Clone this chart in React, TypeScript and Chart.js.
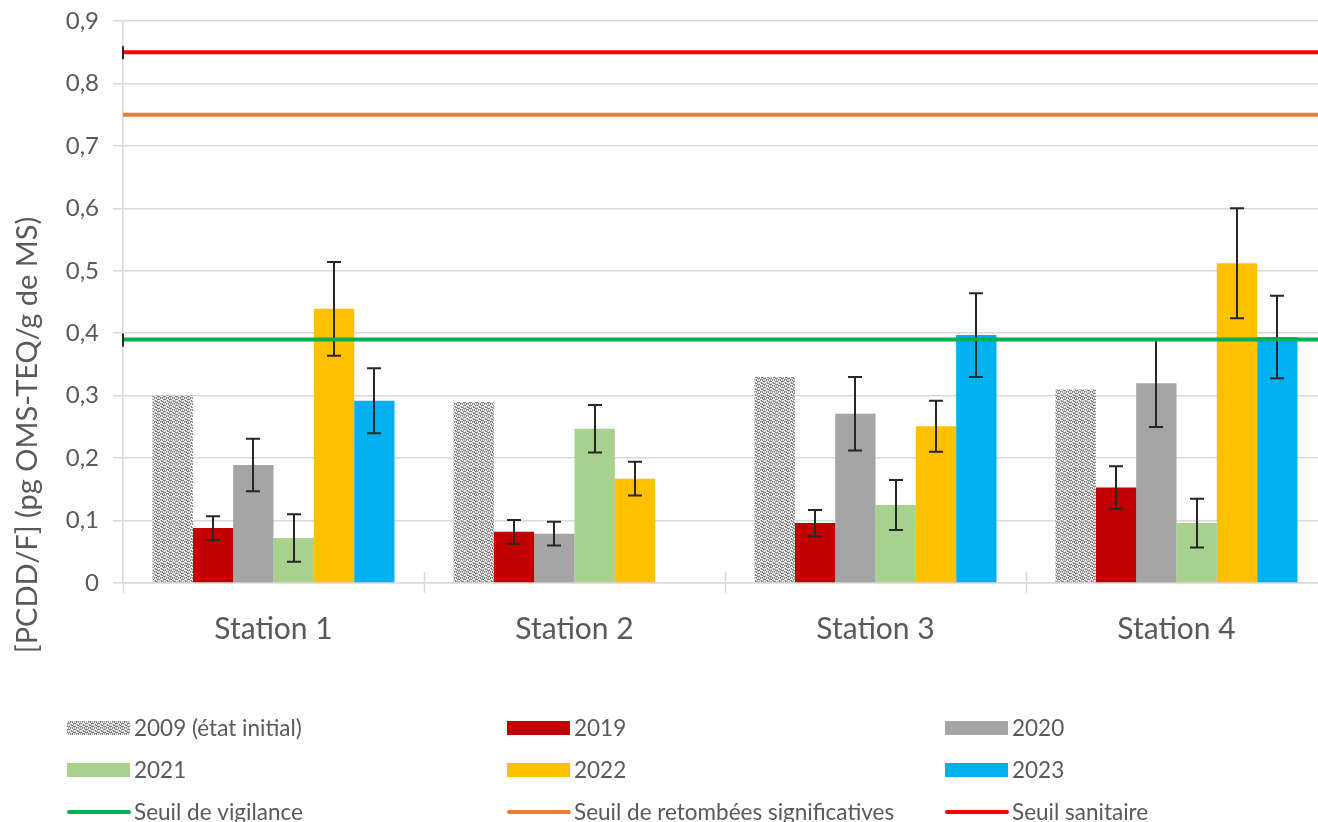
import React, { useEffect, useRef } from "react";
import { Chart, registerables } from "chart.js";

Chart.register(...registerables);

const stations = ["Station 1", "Station 2", "Station 3", "Station 4"];
const yTicks = [0, 0.1, 0.2, 0.3, 0.4, 0.5, 0.6, 0.7, 0.8, 0.9];

const v2009 = [0.3, 0.29, 0.33, 0.31];
const v2019 = [0.088, 0.082, 0.096, 0.153];
const e2019 = [0.019, 0.019, 0.021, 0.034];
const v2020 = [0.189, 0.079, 0.271, 0.32];
const e2020 = [0.042, 0.019, 0.059, 0.07];
const v2021 = [0.072, 0.247, 0.125, 0.096];
const e2021 = [0.038, 0.038, 0.04, 0.039];
const v2022 = [0.439, 0.167, 0.251, 0.512];
const e2022 = [0.075, 0.027, 0.041, 0.088];
const v2023 = [0.292, null, 0.397, 0.394];
const e2023 = [0.052, null, 0.067, 0.066];

const thresholdNames = ["Seuil de vigilance", "Seuil de retombées significatives", "Seuil sanitaire"];
const thresholdValues = [0.39, 0.75, 0.85];
const thresholdColors = ["#00B050", "#ED7D31", "#FF0000"];

const barLabels = ["2009 (état initial)", "2019", "2020", "2021", "2022", "2023"];
const barColors = ["pattern", "#C00000", "#A5A5A5", "#A9D18E", "#FFC000", "#00B0F0"];

const yTitle = "[PCDD/F] (pg OMS-TEQ/g de MS)";
const FONT = "Lato, 'Open Sans', sans-serif";
const TEXT = "#595959";
const GRID = "#d9d9d9";

function makePattern(): CanvasPattern | string {
  const c = document.createElement("canvas");
  c.width = 6;
  c.height = 6;
  const x = c.getContext("2d");
  if (!x) return "#bbb";
  x.fillStyle = "#f2f2f2";
  x.fillRect(0, 0, 6, 6);
  x.fillStyle = "#7f7f7f";
  const dark = [[1, 0], [2, 0], [3, 0], [0, 1], [4, 1], [0, 2], [4, 2], [1, 3], [2, 3], [3, 3], [5, 4], [5, 5], [0, 5]];
  dark.forEach(([px, py]) => x.fillRect(px, py, 1, 1));
  x.fillStyle = "#b5b5b5";
  const mid = [[2, 1], [2, 2], [1, 5], [3, 5], [5, 1], [4, 4], [1, 4]];
  mid.forEach(([px, py]) => x.fillRect(px, py, 1, 1));
  const p = x.createPattern(c, "repeat");
  return p || "#bbb";
}

export default function App() {
  const ref = useRef<HTMLCanvasElement | null>(null);

  useEffect(() => {
    if (!ref.current) return;
    const pattern = makePattern();
    const values = [v2009, v2019, v2020, v2021, v2022, v2023];
    const errors: any[] = [null, e2019, e2020, e2021, e2022, e2023];

    const overlay = {
      id: "overlay",
      afterDatasetsDraw(chart: any) {
        const ctx = chart.ctx;
        const ys = chart.scales.y;
        const area = chart.chartArea;
        ctx.save();
        ctx.strokeStyle = "#262626";
        ctx.lineWidth = 2;
        errors.forEach((errs: any, di: number) => {
          if (!errs) return;
          const meta = chart.getDatasetMeta(di);
          meta.data.forEach((el: any, j: number) => {
            const v = values[di][j];
            const e = errs[j];
            if (v == null || e == null) return;
            const x = Math.round(el.x);
            const yt = ys.getPixelForValue(v + e);
            const yb = ys.getPixelForValue(v - e);
            ctx.beginPath();
            ctx.moveTo(x, yt);
            ctx.lineTo(x, yb);
            ctx.moveTo(x - 7, yt);
            ctx.lineTo(x + 7, yt);
            ctx.moveTo(x - 7, yb);
            ctx.lineTo(x + 7, yb);
            ctx.stroke();
          });
        });
        thresholdValues.forEach((t, i) => {
          const y = ys.getPixelForValue(t);
          ctx.strokeStyle = thresholdColors[i];
          ctx.lineWidth = 4;
          ctx.beginPath();
          ctx.moveTo(area.left, y);
          ctx.lineTo(area.right, y);
          ctx.stroke();
          if (i !== 1) {
            ctx.strokeStyle = "#262626";
            ctx.lineWidth = 2;
            ctx.beginPath();
            ctx.moveTo(area.left, y - 6);
            ctx.lineTo(area.left, y + 7);
            ctx.stroke();
          }
        });
        ctx.restore();
      },
      afterDraw(chart: any) {
        const ctx = chart.ctx;
        const area = chart.chartArea;
        ctx.save();
        ctx.strokeStyle = GRID;
        ctx.lineWidth = 1.5;
        const cw = (area.right - area.left) / stations.length;
        for (let i = 0; i <= stations.length; i++) {
          const x = Math.round(area.left + i * cw) + 0.5;
          ctx.beginPath();
          ctx.moveTo(x, i === 0 ? area.bottom : area.bottom - 11);
          ctx.lineTo(x, area.bottom + 10);
          ctx.stroke();
        }
        ctx.fillStyle = TEXT;
        ctx.font = `29px ${FONT}`;
        ctx.textAlign = "center";
        ctx.textBaseline = "middle";
        ctx.translate(28, 435);
        ctx.rotate(-Math.PI / 2);
        ctx.fillText(yTitle, 0, 0);
        ctx.restore();

        ctx.save();
        const colX = [67, 507, 945];
        const rowY = [728, 770, 812];
        ctx.font = `22.5px ${FONT}`;
        ctx.textAlign = "left";
        ctx.textBaseline = "middle";
        const items: { label: string; kind: string; color: any }[] = [];
        barLabels.forEach((l, i) => items.push({ label: l, kind: "bar", color: i === 0 ? pattern : barColors[i] }));
        thresholdNames.forEach((l, i) => items.push({ label: l, kind: "line", color: thresholdColors[i] }));
        items.forEach((it, k) => {
          const cx = colX[k % 3];
          const cy = rowY[Math.floor(k / 3)];
          if (it.kind === "bar") {
            ctx.fillStyle = it.color;
            ctx.fillRect(cx, cy - 7, 63, 14);
          } else {
            ctx.strokeStyle = it.color;
            ctx.lineWidth = 4;
            ctx.lineCap = "round";
            ctx.beginPath();
            ctx.moveTo(cx + 2, cy);
            ctx.lineTo(cx + 62, cy);
            ctx.stroke();
          }
          ctx.fillStyle = TEXT;
          ctx.fillText(it.label, cx + 67, cy + 1);
        });
        ctx.restore();
      },
    };

    const chart = new Chart(ref.current, {
      type: "bar",
      data: {
        labels: stations,
        datasets: values.map((vals, i) => ({
          label: barLabels[i],
          data: vals as any,
          backgroundColor: i === 0 ? (pattern as any) : barColors[i],
          borderWidth: 0,
          categoryPercentage: 0.804,
          barPercentage: 1,
        })),
      },
      options: {
        animation: false,
        responsive: false,
        devicePixelRatio: 1,
        layout: { padding: { top: 21, right: 3, left: 0, bottom: 0 } },
        plugins: {
          legend: { display: false },
          tooltip: { enabled: false },
          title: { display: false },
        },
        scales: {
          x: {
            grid: { display: false },
            border: { display: true, color: GRID, width: 1.5 },
            ticks: {
              color: TEXT,
              font: { family: FONT, size: 30 },
              padding: 20,
            },
            afterFit(scale: any) {
              scale.height = 822 - 583;
              scale.paddingLeft = 0;
              scale.paddingRight = 0;
            },
          },
          y: {
            min: 0,
            max: 0.9,
            afterBuildTicks(scale: any) {
              scale.ticks = yTicks.map((v) => ({ value: v }));
            },
            grid: { color: GRID, lineWidth: 1.5, tickLength: 10 },
            border: { display: true, color: GRID, width: 1.5 },
            ticks: {
              color: TEXT,
              font: { family: FONT, size: 24 },
              padding: 14,
              callback: (v: any) => (v === 0 ? "0" : Number(v).toFixed(1).replace(".", ",")),
            },
            afterFit(scale: any) {
              scale.width = 123;
              scale.paddingTop = 0;
              scale.paddingBottom = 0;
            },
          },
        },
      },
      plugins: [overlay],
    });
    return () => chart.destroy();
  }, []);

  return (
    <div style={{ position: "fixed", left: 0, top: 0, width: 1318, height: 822, overflow: "hidden", background: "#fff" }}>
      <canvas ref={ref} width={1330} height={822} style={{ display: "block", width: 1330, height: 822 }} />
    </div>
  );
}
